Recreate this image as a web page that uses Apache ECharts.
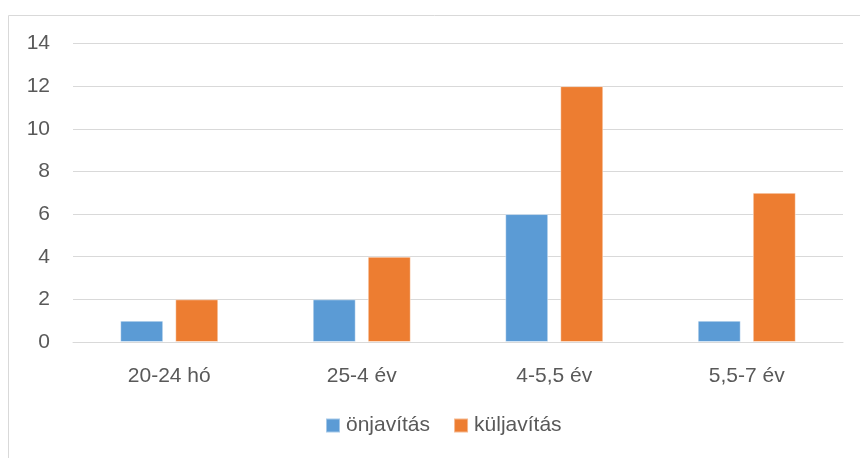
<!DOCTYPE html>
<html>
<head>
<meta charset="utf-8">
<script src="https://cdn.jsdelivr.net/npm/echarts@6/dist/echarts.min.js"></script>
<style>
  html, body { margin: 0; padding: 0; background: #fff; }
  #chart { width: 860px; height: 458px; }
</style>
</head>
<body>
<div id="chart"></div>
<script>
// kategóriák és értékek
const categories = ['20-24 hó', '25-4 év', '4-5,5 év', '5,5-7 év']
const onjavitas = [1, 2, 6, 1]
const kuljavitas = [2, 4, 12, 7]

const textColor = '#595959'
const font = 'Liberation Sans, Arial, sans-serif'

const chart = echarts.init(document.getElementById('chart'))

chart.setOption({
  animation: false,
  graphic: [{
    // külső keret (a kép jobb és alsó szélén túlnyúlik)
    type: 'rect',
    shape: { x: 8.5, y: 15.5, width: 900, height: 500 },
    style: { fill: 'none', stroke: '#d9d9d9', lineWidth: 1 }
  }],
  grid: {
    left: 73,
    right: 17,
    top: 43.5,
    bottom: 116
  },
  legend: {
    bottom: 17,
    left: 320,
    itemWidth: 14,
    itemHeight: 14,
    itemGap: 23,
    icon: 'rect',
    textStyle: { color: textColor, fontSize: 21, fontFamily: font, padding: [0, 0, 0, 1] },
    data: ['önjavítás', 'küljavítás']
  },
  xAxis: {
    type: 'category',
    data: categories,
    axisLine: { show: true, lineStyle: { color: '#d9d9d9', width: 1 } },
    axisTick: { show: false },
    axisLabel: { color: textColor, fontSize: 21, fontFamily: font, margin: 24 }
  },
  yAxis: {
    type: 'value',
    min: 0,
    max: 14,
    interval: 2,
    axisLine: { show: false },
    axisTick: { show: false },
    axisLabel: { color: textColor, fontSize: 21, fontFamily: font, margin: 23 },
    splitLine: { lineStyle: { color: '#d9d9d9', width: 1 } }
  },
  series: [
    {
      name: 'önjavítás',
      type: 'bar',
      data: onjavitas,
      barWidth: 43,
      barGap: '28%',
      itemStyle: { color: '#5b9bd5', borderColor: 'rgba(255,255,255,0.45)', borderWidth: 1 }
    },
    {
      name: 'küljavítás',
      type: 'bar',
      data: kuljavitas,
      barWidth: 43,
      itemStyle: { color: '#ed7d31', borderColor: 'rgba(255,255,255,0.45)', borderWidth: 1 }
    }
  ]
})
</script>
</body>
</html>
